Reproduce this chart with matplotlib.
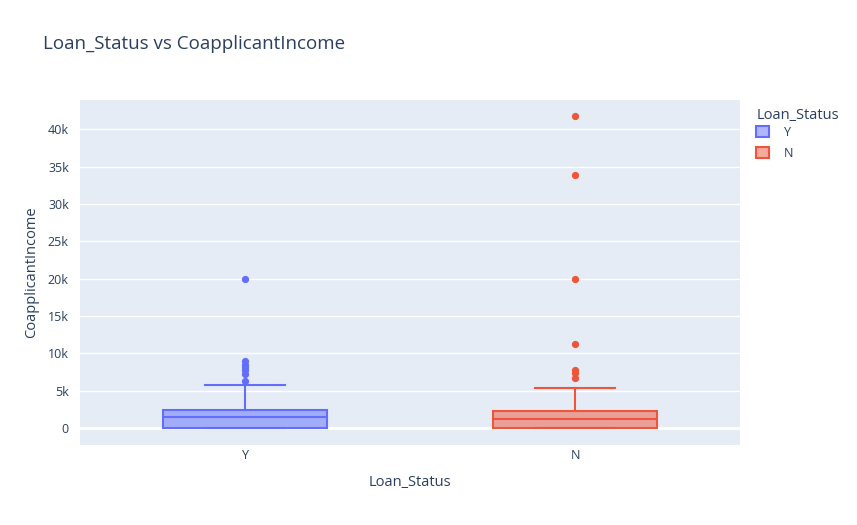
import matplotlib.pyplot as plt
from matplotlib.patches import Patch

plt.rcParams['font.family'] = ['Open Sans', 'DejaVu Sans']

categories = ['Y', 'N']
colors = ['#636efa', '#EF553B']
q1 = [0, 0]
medians = [1500, 1250]
q3 = [2400, 2300]
whis_lo = [0, 0]
whis_hi = [5750, 5400]
outliers = [
    [6300, 7200, 7800, 8200, 8500, 9000, 20000],
    [6700, 7300, 7800, 11300, 20000, 33800, 41700],
]
yticks = [0, 5000, 10000, 15000, 20000, 25000, 30000, 35000, 40000]
ytick_labels = ['0', '5k', '10k', '15k', '20k', '25k', '30k', '35k', '40k']

text_color = '#2a3f5f'


def rgba(c, a):
    r, g, b = [int(c[k:k + 2], 16) / 255 for k in (1, 3, 5)]
    return (r, g, b, a)


fig = plt.figure(figsize=(8.57, 5.25), dpi=100)
ax = fig.add_axes([80 / 857, 80 / 525, 660 / 857, 345 / 525])
ax.set_facecolor('#E5ECF6')

for i, name in enumerate(categories):
    stats = [{
        'med': medians[i], 'q1': q1[i], 'q3': q3[i],
        'whislo': whis_lo[i], 'whishi': whis_hi[i],
        'fliers': outliers[i], 'label': name,
    }]
    c = colors[i]
    ax.bxp(stats, positions=[i], widths=0.495, patch_artist=True,
           boxprops=dict(facecolor=rgba(c, 0.5), edgecolor=c, linewidth=1.5),
           medianprops=dict(color=c, linewidth=1.5),
           whiskerprops=dict(color=c, linewidth=1.5),
           capprops=dict(color=c, linewidth=1.5),
           capwidths=0.24,
           flierprops=dict(marker='o', markerfacecolor=c, markeredgecolor=c,
                           markersize=4.2, linestyle='none'),
           zorder=3)

ax.set_xlim(-0.5, 1.5)
ax.set_ylim(-2270, 43900)
ax.set_xticks(range(len(categories)))
ax.set_xticklabels(categories)
ax.set_yticks(yticks)
ax.set_yticklabels(ytick_labels)
ax.tick_params(axis='y', length=0, colors=text_color, labelsize=9, pad=8)
ax.tick_params(axis='x', length=0, colors=text_color, labelsize=9, pad=3)
ax.grid(axis='y', color='white', linewidth=1, zorder=0)
ax.axhline(0, color='white', linewidth=2, zorder=1)
ax.set_axisbelow(True)
for s in ax.spines.values():
    s.set_visible(False)

ax.set_xlabel('Loan_Status', color=text_color, fontsize=10.5, labelpad=9)
ax.set_ylabel('CoapplicantIncome', color=text_color, fontsize=10.5, labelpad=6)

fig.text(43 / 857, 1 - 44 / 525, 'Loan_Status vs CoapplicantIncome',
         color=text_color, fontsize=13.5, va='center', ha='left')

handles = [Patch(facecolor=rgba(colors[i], 0.5), edgecolor=colors[i],
                 linewidth=1.5, label=name)
           for i, name in enumerate(categories)]
leg = fig.legend(handles=handles, title='Loan_Status', loc='upper left',
                 bbox_to_anchor=(750 / 857, 1 - 102 / 525), frameon=False,
                 fontsize=9, title_fontsize=10.5, handlelength=1.0,
                 handleheight=1.0, handletextpad=1.2, labelspacing=0.6,
                 borderpad=0)
leg.get_title().set_color(text_color)
leg._legend_box.align = 'left'
leg._legend_box.sep = 2
for t in leg.get_texts():
    t.set_color(text_color)

fig.savefig('out.png', dpi=100, facecolor='white')
